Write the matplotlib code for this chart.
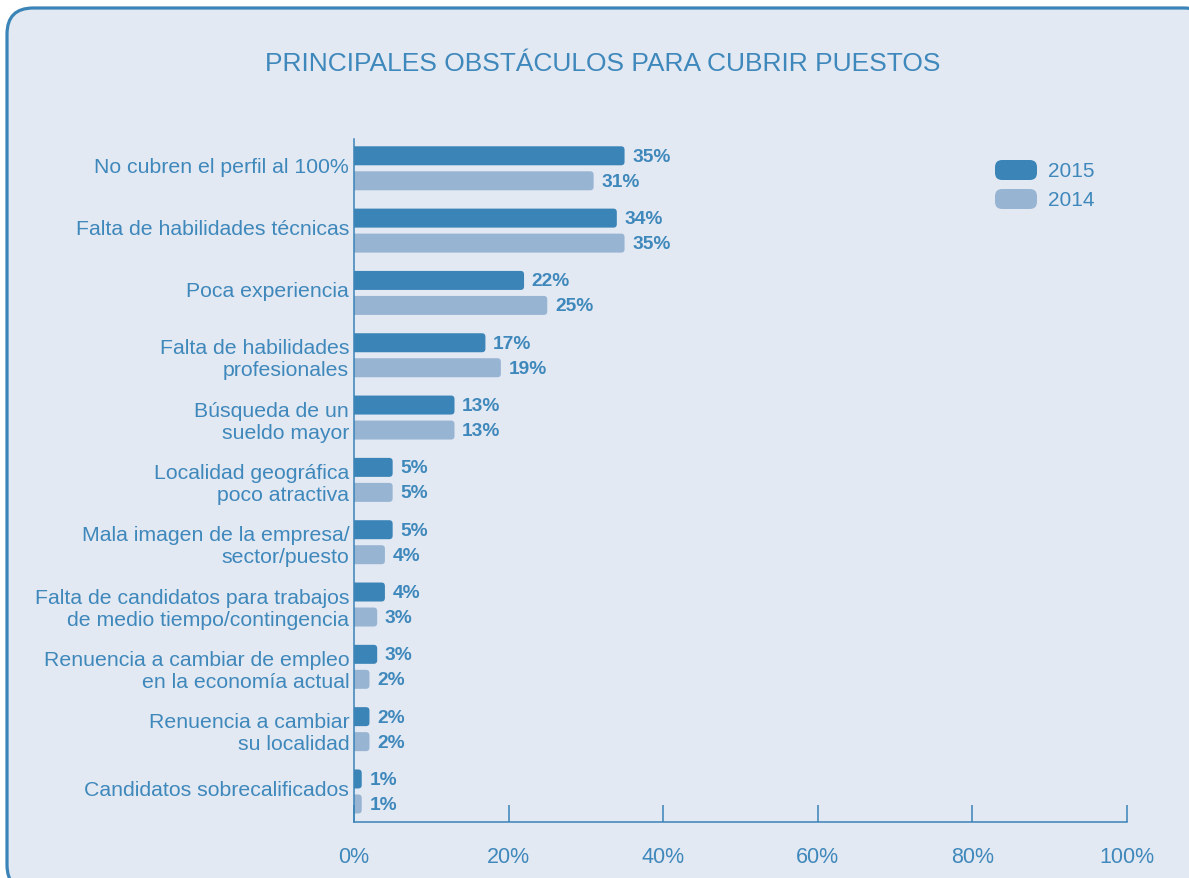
import matplotlib
matplotlib.use('Agg')
import matplotlib.pyplot as plt
import matplotlib.transforms as mtransforms
from matplotlib.patches import FancyBboxPatch

# datos
categorias = [
    'No cubren el perfil al 100%',
    'Falta de habilidades técnicas',
    'Poca experiencia',
    'Falta de habilidades\nprofesionales',
    'Búsqueda de un\nsueldo mayor',
    'Localidad geográfica\npoco atractiva',
    'Mala imagen de la empresa/\nsector/puesto',
    'Falta de candidatos para trabajos\nde medio tiempo/contingencia',
    'Renuencia a cambiar de empleo\nen la economía actual',
    'Renuencia a cambiar\nsu localidad',
    'Candidatos sobrecalificados',
]
v2015 = [35, 34, 22, 17, 13, 5, 5, 4, 3, 2, 1]
v2014 = [31, 35, 25, 19, 13, 5, 4, 3, 2, 2, 1]
anios = ['2015', '2014']
ticks = [0, 20, 40, 60, 80, 100]

azul = '#3A84B7'
claro = '#98B4D3'
fondo = '#E3E9F3'
texto = '#3F88BB'

plt.rcParams['font.family'] = ['Liberation Sans', 'DejaVu Sans']

W, H = 1189, 879
fig = plt.figure(figsize=(W / 100, H / 100), dpi=100)
fig.patch.set_facecolor('white')

# marco redondeado
marco = FancyBboxPatch((7 / W, (H - 892) / H), (1210 - 7) / W, (892 - 9) / H,
                       boxstyle='round,pad=0,rounding_size=0.022',
                       mutation_aspect=W / H, transform=fig.transFigure,
                       facecolor=fondo, edgecolor=azul, linewidth=2.3, zorder=0)
fig.add_artist(marco)

fig.text(603 / W, 1 - 64 / H, 'PRINCIPALES OBSTÁCULOS PARA CUBRIR PUESTOS',
         ha='center', va='center', fontsize=19, color=texto)

ax = fig.add_axes([354 / W, 56 / H, 773 / W, 683 / H])
ax.set_facecolor('none')
ax.set_xlim(0, 100)
ax.set_ylim(10.49, -0.47)

px_x = 773 / 100
px_y = 683 / (10.49 + 0.47)
alto = 19 / px_y
desp = 12.5 / px_y
aspecto = px_x / px_y

for i in range(len(categorias)):
    for vals, col, off in [(v2015, azul, -desp), (v2014, claro, desp)]:
        v = vals[i]
        y = i + off
        barra = FancyBboxPatch((-2, y - alto / 2), v + 2, alto,
                               boxstyle='round,pad=0,rounding_size=0.45',
                               mutation_aspect=aspecto,
                               facecolor=col, edgecolor='none')
        ax.add_patch(barra)
        ax.annotate(f'{v}%', (v, y), xytext=(5.5, -0.3), textcoords='offset points',
                    ha='left', va='center', fontsize=13.8, fontweight='bold',
                    color=texto)

ax.set_yticks(range(len(categorias)), labels=categorias)
ax.tick_params(axis='y', length=0, pad=3.5, labelsize=15.3, labelcolor=texto)
subir = mtransforms.ScaledTranslation(0, 3 / 72, fig.dpi_scale_trans)
for lab in ax.get_yticklabels():
    lab.set_horizontalalignment('right')
    lab.set_linespacing(1.2)
    if '\n' not in lab.get_text():
        lab.set_transform(lab.get_transform() + subir)

ax.set_xticks(ticks, labels=[f'{t}%' for t in ticks])
ax.tick_params(axis='x', direction='in', length=12.5, width=1.1, color=azul,
               pad=17, labelsize=15.5, labelcolor=texto)

for s in ['top', 'right']:
    ax.spines[s].set_visible(False)
for s in ['left', 'bottom']:
    ax.spines[s].set_color(azul)
    ax.spines[s].set_linewidth(1.1)

# leyenda
for k, (nombre, col) in enumerate(zip(anios, [azul, claro])):
    y0 = 161 + k * 29
    caja = FancyBboxPatch((995 / W, 1 - (y0 + 20) / H), 42 / W, 20 / H,
                          boxstyle='round,pad=0,rounding_size=0.006',
                          mutation_aspect=W / H, transform=fig.transFigure,
                          facecolor=col, edgecolor='none')
    fig.add_artist(caja)
    fig.text(1048 / W, 1 - (y0 + 11) / H, nombre, ha='left', va='center',
             fontsize=15, color=texto)

fig.savefig('out.png', dpi=100)
